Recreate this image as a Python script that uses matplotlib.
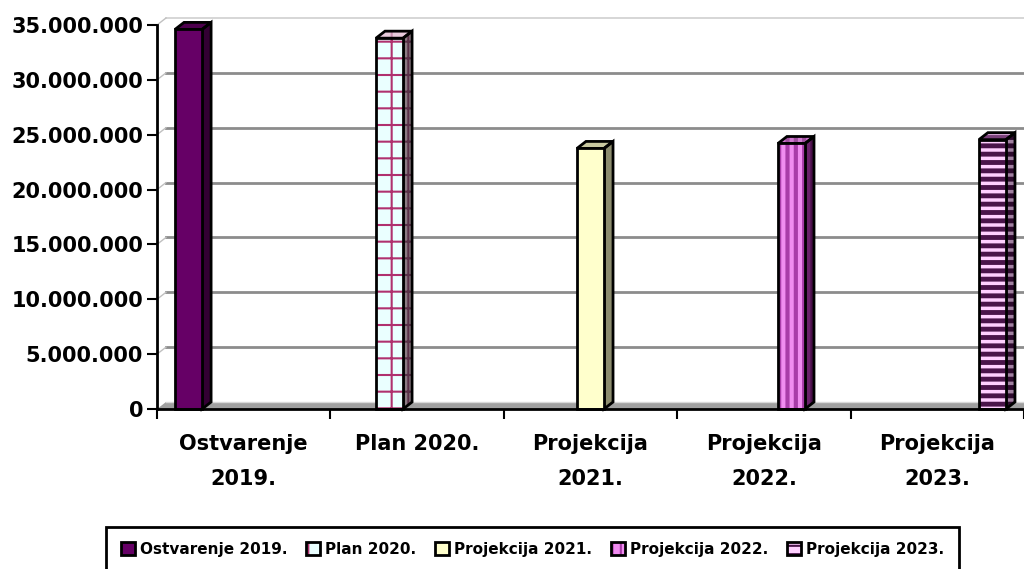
import matplotlib
matplotlib.use('Agg')
import matplotlib.pyplot as plt
from matplotlib.patches import Polygon, Patch
from matplotlib.ticker import FuncFormatter, FixedLocator

plt.rcParams['font.family'] = 'DejaVu Sans'
plt.rcParams['font.weight'] = 'bold'
plt.rcParams['hatch.linewidth'] = 1.5

categories = ["Ostvarenje\n2019.", "Plan 2020.", "Projekcija\n2021.",
              "Projekcija\n2022.", "Projekcija\n2023."]
series = ["Ostvarenje 2019.", "Plan 2020.", "Projekcija 2021.",
          "Projekcija 2022.", "Projekcija 2023."]
values = [34600000, 33800000, 23750000, 24200000, 24550000]
yticks = [0, 5000000, 10000000, 15000000, 20000000, 25000000, 30000000, 35000000]

# front, side, top colours, hatch, hatch colours (front, side, top), hatch lw
styles = [
    ("#660066", "#330033", "#4d004d", None, None, None, None, 1.5),
    ("#eaffff", "#8c7c84", "#e8cadc", "+", "#b0306e", "#5a3048", "#c890b0", 1.5),
    ("#ffffcc", "#8c8c6e", "#c8c8a0", None, None, None, None, 1.5),
    ("#f08cf0", "#6a226a", "#d07ad0", "||", "#a83ca8", "#4a104a", "#a050a0", 3.0),
    ("#ffd0ff", "#a080a0", "#d8a8d8", "--", "#4a144a", "#2e0a2e", "#7a407a", 3.5),
]

W, H = 1024, 569
fig = plt.figure(figsize=(W / 100, H / 100), dpi=100)
ax = fig.add_axes([157 / W, (H - 409) / H, 867 / W, 384 / H])
ax.set_xlim(0, 5)
ax.set_ylim(0, 35000000)

# 3d depth in data units
px_x = 5 / 867
px_y = 35000000 / 384
DX = 9 * px_x
DY = 7 * px_y

# back wall gridlines
for t in yticks[1:]:
    c = "#d0d0d0" if t == yticks[-1] else "#8c8c8c"
    lw = 1.2 if t == yticks[-1] else 2
    ax.plot([DX, 5.3], [t + DY, t + DY], color=c, lw=lw, zorder=1, clip_on=False)
    ax.plot([0, DX], [t, t + DY], color="#c0c0c0", lw=1, zorder=1, clip_on=False)

# floor
floor = Polygon([(0, 0), (5.3, 0), (5.3 + DX, DY), (DX, DY)], closed=True,
                facecolor="#a0a0a0", edgecolor="none", zorder=1, clip_on=False)
ax.add_patch(floor)
ax.plot([DX, 5.3], [DY, DY], color="#d8d8d8", lw=1, zorder=1.1, clip_on=False)


def face(pts, fc, hatch, hc, hlw, z):
    p = Polygon(pts, closed=True, facecolor=fc, hatch=hatch,
                edgecolor=hc if hatch else "none", lw=0, zorder=z, clip_on=False)
    if hatch and hasattr(p, "set_hatch_linewidth"):
        p.set_hatch_linewidth(hlw)
    ax.add_patch(p)
    ax.add_patch(Polygon(pts, closed=True, fill=False, edgecolor="black", lw=2,
                         joinstyle="miter", zorder=z + 0.1, clip_on=False))
    return p


slot = 0.159
bw = 0.156
handles = []
for i, v in enumerate(values):
    fc, sc, tc, hatch, hf, hs, ht, hlw = styles[i]
    xc = i + 0.5 + (i - 2) * slot
    x0, x1 = xc - bw / 2, xc + bw / 2
    face([(x1, 0), (x1 + DX, DY), (x1 + DX, v + DY), (x1, v)], sc, hatch, hs, hlw, 3)
    face([(x0, v), (x1, v), (x1 + DX, v + DY), (x0 + DX, v + DY)], tc, hatch, ht, hlw, 3)
    face([(x0, 0), (x1, 0), (x1, v), (x0, v)], fc, hatch, hf, hlw, 4)

    hp = Patch(facecolor=fc, hatch=hatch, edgecolor=hf if hatch else fc, lw=0)
    if hatch and hasattr(hp, "set_hatch_linewidth"):
        hp.set_hatch_linewidth(1.5)
    ho = Patch(fill=False, edgecolor="black", lw=2)
    handles.append((hp, ho))

for s in ["top", "right"]:
    ax.spines[s].set_visible(False)
ax.spines["left"].set_linewidth(2)
ax.spines["bottom"].set_linewidth(2)
ax.spines["left"].set_zorder(5)
ax.spines["bottom"].set_zorder(5)

ax.yaxis.set_major_locator(FixedLocator(yticks))
ax.yaxis.set_major_formatter(FuncFormatter(lambda v, p: f"{v:,.0f}".replace(",", ".")))
ax.tick_params(axis="y", length=7, width=1.5, pad=3, labelsize=15)

ax.set_xticks([0, 1, 2, 3, 4, 5])
ax.set_xticklabels([])
ax.set_xticks([0.5, 1.5, 2.5, 3.5, 4.5], minor=True)
ax.set_xticklabels(categories, minor=True, fontsize=15, linespacing=1.95)
ax.tick_params(axis="x", which="major", length=7, width=1.5)
ax.tick_params(axis="x", which="minor", length=0, pad=18)

leg = fig.legend(handles, series, loc="upper center", ncol=5,
                 bbox_to_anchor=(532.5 / W, 1 - 527 / H), borderaxespad=0,
                 prop={"size": 11, "weight": "bold"}, handlelength=0.9,
                 handleheight=0.9, handletextpad=0.33, columnspacing=1.25,
                 borderpad=0.95, fancybox=False, framealpha=1, edgecolor="black")
leg.get_frame().set_linewidth(2)

fig.savefig("out.png", dpi=100, facecolor="white")
